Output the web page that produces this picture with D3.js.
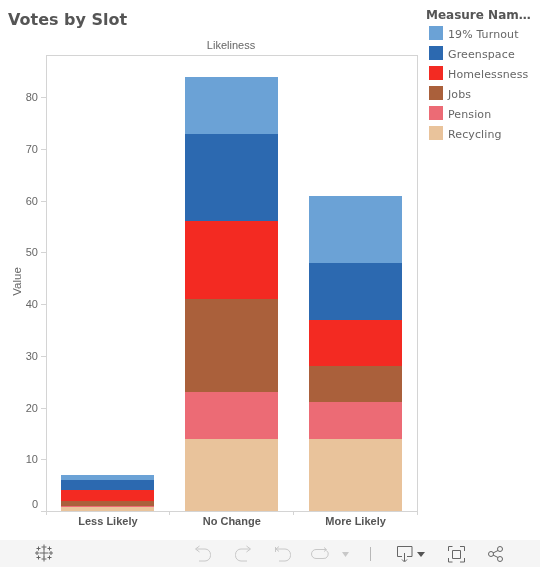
<!DOCTYPE html>
<html><head><meta charset="utf-8">
<script src="https://cdnjs.cloudflare.com/ajax/libs/d3/7.8.5/d3.min.js"></script>
<style>html,body{margin:0;padding:0;background:#fff}svg{display:block;will-change:transform}</style>
</head><body><svg id="c" width="540" height="567"></svg>
<script>
const categories = ["Less Likely", "No Change", "More Likely"];
const measures = ["Recycling", "Pension", "Jobs", "Homelessness", "Greenspace", "19% Turnout"];
const legendOrder = ["19% Turnout", "Greenspace", "Homelessness", "Jobs", "Pension", "Recycling"];
const colors = ["#e9c39b", "#ec6b75", "#aa603b", "#f32a22", "#2c69b0", "#6ba2d6"];
const recycling = [0.8, 14, 14];
const pension = [0.25, 9, 7];
const jobs = [0.9, 18, 7];
const homelessness = [2.2, 15, 9];
const greenspace = [1.9, 17, 11];
const turnout = [1, 11, 13];
const seriesValues = [recycling, pension, jobs, homelessness, greenspace, turnout];
const yTicks = [0, 10, 20, 30, 40, 50, 60, 70, 80];

const svg = d3.select("#c");
const sans = "'Liberation Sans', Arial, sans-serif", dv = "'DejaVu Sans', sans-serif";
const grey = "#d4d4d4";
const L = 46, R = 417, T = 55, B = 511;
const x = d3.scaleBand().domain(categories).range([L, R + 0.5]).paddingInner(0).paddingOuter(0);
const y = d3.scaleLinear().domain([0, (B - T) / 5.171]).range([B, T]);
const barW = 93;

svg.append("text").attr("x", 8).attr("y", 25).attr("font-family", dv).attr("font-weight", "bold")
  .attr("font-size", 16).attr("fill", "#555").text("Votes by Slot");
svg.append("text").attr("x", 231).attr("y", 49).attr("text-anchor", "middle").attr("font-family", sans)
  .attr("font-size", 11).attr("fill", "#666").text("Likeliness");
svg.append("text").attr("transform", "translate(21,281.5) rotate(-90)").attr("text-anchor", "middle")
  .attr("font-family", sans).attr("font-size", 11.5).attr("fill", "#666").text("Value");

// stacked bars
const rows = categories.map((c, i) => {
  const r = { c };
  measures.forEach((m, j) => r[m] = seriesValues[j][i]);
  return r;
});
const stacked = d3.stack().keys(measures)(rows);
stacked.forEach((s, j) => {
  svg.append("g").attr("fill", colors[j]).attr("shape-rendering", "crispEdges").selectAll("rect").data(s).join("rect")
    .attr("x", d => x(d.data.c) + (x.bandwidth() - barW) / 2)
    .attr("width", barW)
    .attr("y", d => y(d[1]))
    .attr("height", d => y(d[0]) - y(d[1]));
});

// frame
const line = (x1, y1, x2, y2) => svg.append("line").attr("x1", x1).attr("y1", y1).attr("x2", x2).attr("y2", y2)
  .attr("stroke", grey).attr("stroke-width", 1).attr("shape-rendering", "crispEdges");
line(L, T, R, T); line(R, T, R, B + 4); line(L, T, L, B); line(L, B, R, B);

// y axis
const yAxis = svg.append("g").attr("transform", `translate(${L},0)`)
  .call(d3.axisLeft(y).tickValues(yTicks).tickSize(5).tickPadding(3).tickFormat(d3.format("d")));
yAxis.select(".domain").remove();
yAxis.selectAll(".tick line").attr("stroke", grey).attr("shape-rendering", "crispEdges");
yAxis.selectAll("text").attr("font-family", sans).attr("font-size", 11).attr("fill", "#666");
yAxis.selectAll(".tick").filter(d => d === 0).select("text").attr("dy", "-0.3em");

// x axis
const xAxis = svg.append("g").attr("transform", `translate(0,${B})`)
  .call(d3.axisBottom(x).tickSize(0).tickPadding(6));
xAxis.select(".domain").remove();
xAxis.selectAll("text").attr("font-family", sans).attr("font-weight", "bold").attr("font-size", 11).attr("fill", "#555");
categories.forEach(c => line(x(c), B, x(c), B + 4));

// legend
svg.append("text").attr("x", 426).attr("y", 19).attr("font-family", dv).attr("font-weight", "bold")
  .attr("font-size", 12).attr("fill", "#555").text("Measure Nam\u2026");
const lg = svg.append("g").selectAll("g").data(legendOrder).join("g")
  .attr("transform", (d, i) => `translate(429,${26 + i * 20})`);
lg.append("rect").attr("width", 14).attr("height", 14).attr("fill", d => colors[measures.indexOf(d)]);
lg.append("text").attr("x", 19).attr("y", 12).attr("font-family", dv).attr("font-size", 11)
  .attr("fill", "#666").attr("letter-spacing", 0.12).text(d => d);

// toolbar
svg.append("rect").attr("x", 0).attr("y", 540).attr("width", 540).attr("height", 27).attr("fill", "#f5f5f5");
const ic = svg.append("g").attr("fill", "none").attr("stroke-width", 1);
const P = (d, s) => ic.append("path").attr("d", d).attr("stroke", s);
// logo
[[44,553,4.5],[44,547,2.5],[44,559,2.5],[37,553,2],[51,553,2],[38.5,548.5,2],[49.5,548.5,2],[38.5,557.5,2],[49.5,557.5,2]].forEach(([a,b,r]) =>
  P(`M${a-r},${b}H${a+r}M${a},${b-r}V${b+r}`, "#666"));
// undo, redo, undo-all, redo-all
P("M196,549h9a5.5,5.5 0 0 1 5.5,5.5v1a5.5,5.5 0 0 1 -5.5,5.5h-6M199.5,546l-4,3l4,3", "#c8c8c8");
P("M250,549h-9a5.5,5.5 0 0 0 -5.5,5.5v1a5.5,5.5 0 0 0 5.5,5.5h6M246.5,546l4,3l-4,3", "#c8c8c8");
P("M276,549h9a5.5,5.5 0 0 1 5.5,5.5v1a5.5,5.5 0 0 1 -5.5,5.5h-6M275.5,547v5M279,546.5l-3,2.5l3,2.5", "#c8c8c8");
P("M326,549.5h-10a4.5,4.5 0 0 0 0,9h7a4.5,4.5 0 0 0 3.5,-8M324,547.5l2.5,2l-2.5,2", "#c8c8c8");
svg.append("path").attr("d", "M342,552h7l-3.5,5z").attr("fill", "#c8c8c8");
P("M370.5,547v14", "#b8b8b8");
// download
P("M397.5,546.5h14.5v10h-5M402,556.5h-4.5v-10M404.5,553v8M402,559.5l2.5,2.5l2.5,-2.5", "#666");
svg.append("path").attr("d", "M417,552h8l-4,5z").attr("fill", "#555");
// fullscreen
P("M448.5,551v-4.5h4M460,546.5h4.5v4.5M464.5,558v4h-4.5M452.5,562h-4v-4M452.5,550.5h8v8h-8z", "#666");
// share
P("M498,550.5l-5,2.5M498,557.5l-5,-2.5", "#666");
[[500,549],[491,554],[500,559]].forEach(([a,b]) => ic.append("circle").attr("cx", a).attr("cy", b).attr("r", 2.5).attr("stroke", "#666"));
</script></body></html>
